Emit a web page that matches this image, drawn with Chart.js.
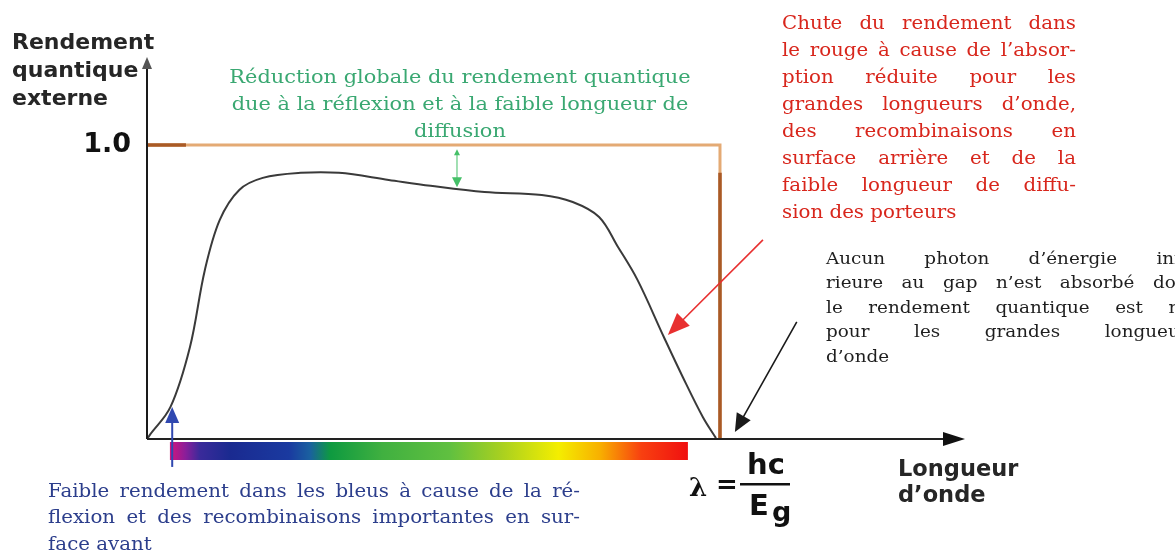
<!DOCTYPE html>
<html lang="fr">
<head>
<meta charset="utf-8">
<title>Rendement quantique externe</title>
<script src="https://cdn.jsdelivr.net/npm/chart.js@4.4.1/dist/chart.umd.min.js"></script>
<style>
  html, body { margin: 0; padding: 0; background: #fff; overflow: hidden; }
  canvas { display: block; }
</style>
</head>
<body>
<canvas id="graficoRendement" width="1175" height="554"></canvas>
<script>
// ========== DONNÉES ==========
// longueur d'onde réduite λ/λg (λg = hc/Eg) et rendement quantique externe mesuré
const lambdaRel = [0, 0.005, 0.041, 0.075, 0.101, 0.127, 0.161, 0.202, 0.268, 0.335, 0.422,
                   0.495, 0.589, 0.689, 0.743, 0.789, 0.822, 0.856, 0.902, 0.935, 0.970, 0.993];
const rendement = [0, 0.014, 0.109, 0.313, 0.575, 0.745, 0.847, 0.888, 0.905, 0.905, 0.881,
                   0.861, 0.840, 0.830, 0.806, 0.755, 0.653, 0.541, 0.347, 0.211, 0.075, 0.003];

// cas idéal : rendement 1 jusqu'au gap, 0 au-delà
const idealX = [0, 1, 1];
const idealY = [1, 1, 0];
// parties du cadre idéal tracées en brun foncé
const bordGaucheX = [0, 0.068];
const bordGaucheY = [1, 1];
const bordDroitX = [1, 1];
const bordDroitY = [0.905, 0];

// graduation de l'axe vertical
const yTicks = [1.0];
const yTickLabels = ['1.0'];

// bornes des axes (pointe des flèches)
const xMax = 1.4276;
const yMax = 1.299;

// bande du spectre visible sous l'axe des λ
const spectreDebut = 0.04;
const spectreFin = 0.944;
const spectrePos = [0, 0.03, 0.058, 0.116, 0.23, 0.27, 0.31, 0.41, 0.54, 0.64, 0.75, 0.83, 0.91, 1];
const spectreCouleurs = ['#d4147c', '#8a1e9a', '#3a2a9a', '#1a2a90', '#1a3aa0', '#1a60a0', '#0e9a40',
                         '#40b040', '#60c040', '#a8d020', '#f4ee00', '#f8b000', '#f84010', '#f01010'];

// ========== TEXTES ==========
const paragraphes = [
    {
        lignes: ['Chute du rendement dans', 'le rouge à cause de l’absor-', 'ption réduite pour les',
                 'grandes longueurs d’onde,', 'des recombinaisons en', 'surface arrière et de la',
                 'faible longueur de diffu-', 'sion des porteurs'],
        x: 782, y: 24, pas: 27, largeur: 294, couleur: '#d8261c', police: '18px "DejaVu Serif"', etirement: 1.1
    },
    {
        lignes: ['Aucun photon d’énergie infé-', 'rieure au gap n’est absorbé donc',
                 'le rendement quantique est nul', 'pour les grandes longueurs', 'd’onde'],
        x: 826, y: 259, pas: 24.5, largeur: 372, couleur: '#1e1e1e', police: '17.5px "DejaVu Serif"', etirement: 1.05
    },
    {
        lignes: ['Faible rendement dans les bleus à cause de la ré-',
                 'flexion et des recombinaisons importantes en sur-', 'face avant'],
        x: 48, y: 492, pas: 26.5, largeur: 532, couleur: '#2c3e8c', police: '18px "DejaVu Serif"', etirement: 1.1
    }
];
const texteVert = ['Réduction globale du rendement quantique',
                   'due à la réflexion et à la faible longueur de', 'diffusion'];
const titreY = ['Rendement', 'quantique', 'externe'];
const titreX = ['Longueur', 'd’onde'];

// ========== OUTILS DE DESSIN ==========
function ligneJustifiee(ctx, txt, x, y, largeur, justifier, etirement) {
    const mots = txt.split(' ');
    const larg = mots.map(m => ctx.measureText(m).width * etirement);
    const total = larg.reduce((a, b) => a + b, 0);
    const espNat = ctx.measureText(' ').width * etirement;
    let esp = espNat;
    let sx = etirement;
    if (justifier && mots.length > 1) {
        esp = (largeur - total) / (mots.length - 1);
        if (esp < espNat * 0.8) {
            esp = espNat * 0.8;
            sx = etirement * (largeur - esp * (mots.length - 1)) / total;
        }
    }
    let cx = x;
    mots.forEach((m, i) => {
        ctx.save();
        ctx.translate(cx, y);
        ctx.scale(sx, 1);
        ctx.fillText(m, 0, 0);
        ctx.restore();
        cx += larg[i] * sx / etirement + esp;
    });
}

function pointe(ctx, x1, y1, x2, y2, long, demi) {
    const a = Math.atan2(y2 - y1, x2 - x1);
    ctx.beginPath();
    ctx.moveTo(x2, y2);
    ctx.lineTo(x2 - long * Math.cos(a) + demi * Math.sin(a), y2 - long * Math.sin(a) - demi * Math.cos(a));
    ctx.lineTo(x2 - long * Math.cos(a) - demi * Math.sin(a), y2 - long * Math.sin(a) + demi * Math.cos(a));
    ctx.closePath();
    ctx.fill();
}

function fleche(ctx, x1, y1, x2, y2, couleur, epaisseur, long, demi, double) {
    const a = Math.atan2(y2 - y1, x2 - x1);
    ctx.save();
    ctx.strokeStyle = couleur;
    ctx.fillStyle = couleur;
    ctx.lineWidth = epaisseur;
    ctx.beginPath();
    ctx.moveTo(x1 + (double ? long * 0.5 * Math.cos(a) : 0), y1 + (double ? long * 0.5 * Math.sin(a) : 0));
    ctx.lineTo(x2 - long * 0.8 * Math.cos(a), y2 - long * 0.8 * Math.sin(a));
    ctx.stroke();
    pointe(ctx, x1, y1, x2, y2, long, demi);
    if (double) pointe(ctx, x2, y2, x1, y1, long * 0.6, demi * 0.6);
    ctx.restore();
}

// annotations fléchées, en coordonnées des données (λ/λg, rendement)
const flecheVert = { de: [0.541, 0.985], vers: [0.541, 0.856] };
const flecheRouge = { de: [1.075, 0.677], vers: [0.909, 0.354] };
const flecheNoire = { de: [1.134, 0.398], vers: [1.026, 0.024] };
const flecheBleue = { de: [0.044, -0.095], vers: [0.044, 0.109] };

// ========== PLUGIN : AXES, SPECTRE, FLÈCHES, TEXTES ==========
const decorDiagramme = {
    id: 'decorDiagramme',
    afterDatasetsDraw(chart) {
        const ctx = chart.ctx;
        const xs = chart.scales.x, ys = chart.scales.y;
        const px = v => xs.getPixelForValue(v);
        const py = v => ys.getPixelForValue(v);
        const area = chart.chartArea;
        const x0 = px(0), y0 = py(0);

        ctx.save();

        // spectre visible
        const sx1 = px(spectreDebut), sx2 = px(spectreFin);
        const grad = ctx.createLinearGradient(sx1, 0, sx2, 0);
        spectrePos.forEach((p, i) => grad.addColorStop(p, spectreCouleurs[i]));
        ctx.fillStyle = grad;
        ctx.fillRect(sx1, y0 + 3, sx2 - sx1, 18);

        // axe vertical
        ctx.strokeStyle = '#1a1a1a';
        ctx.lineWidth = 2;
        ctx.beginPath();
        ctx.moveTo(x0, y0);
        ctx.lineTo(x0, area.top + 10);
        ctx.stroke();
        ctx.fillStyle = '#555';
        pointe(ctx, x0, area.top + 20, x0, area.top, 12, 5);

        // axe horizontal
        ctx.strokeStyle = '#222';
        ctx.beginPath();
        ctx.moveTo(x0, y0);
        ctx.lineTo(area.right - 15, y0);
        ctx.stroke();
        ctx.fillStyle = '#111';
        pointe(ctx, area.left, y0, area.right, y0, 22, 7);

        // flèches d'annotation
        const f = (o, c, e, l, d, dbl) => fleche(ctx, px(o.de[0]), py(o.de[1]), px(o.vers[0]), py(o.vers[1]), c, e, l, d, dbl);
        f(flecheVert, '#45c068', 1, 10, 5, true);
        f(flecheRouge, '#e83030', 1.6, 22, 9, false);
        f(flecheNoire, '#1a1a1a', 1.6, 18, 8, false);
        f(flecheBleue, '#3048b0', 2, 16, 7, false);

        // graduation 1.0
        ctx.fillStyle = '#111';
        ctx.font = 'bold 27px "DejaVu Sans"';
        ctx.textAlign = 'right';
        ctx.textBaseline = 'middle';
        yTicks.forEach((v, i) => ctx.fillText(yTickLabels[i], x0 - 16, py(v)));

        // titres des axes
        ctx.textAlign = 'left';
        ctx.fillStyle = '#262626';
        ctx.font = 'bold 22px "DejaVu Sans"';
        titreY.forEach((t, i) => ctx.fillText(t, 12, 43 + i * 28));
        ctx.font = 'bold 22.5px "DejaVu Sans"';
        titreX.forEach((t, i) => ctx.fillText(t, 898, 470 + i * 26));

        // λ = hc / Eg
        ctx.fillStyle = '#111';
        ctx.font = 'bold 26px "DejaVu Serif"';
        ctx.fillText('λ', 689, 489);
        ctx.font = 'bold 26px "DejaVu Sans"';
        ctx.fillText('=', 716, 486);
        ctx.textAlign = 'center';
        ctx.font = 'bold 29px "DejaVu Sans"';
        ctx.fillText('hc', 766, 466);
        ctx.fillRect(740, 483, 50, 2.5);
        ctx.textAlign = 'left';
        ctx.fillText('E', 749, 507);
        ctx.font = 'bold 27px "DejaVu Sans"';
        ctx.fillText('g', 772, 514);

        // texte vert centré
        ctx.fillStyle = '#3aa872';
        ctx.font = '19px "DejaVu Serif"';
        ctx.textAlign = 'center';
        texteVert.forEach((t, i) => {
            ctx.save();
            ctx.translate(460, 78 + i * 27);
            ctx.scale(1.1, 1);
            ctx.fillText(t, 0, 0);
            ctx.restore();
        });

        // paragraphes justifiés
        ctx.textAlign = 'left';
        paragraphes.forEach(p => {
            ctx.fillStyle = p.couleur;
            ctx.font = p.police;
            p.lignes.forEach((t, i) => ligneJustifiee(ctx, t, p.x, p.y + i * p.pas, p.largeur,
                i < p.lignes.length - 1, p.etirement));
        });

        ctx.restore();
    }
};

// ========== GRAPHIQUE ==========
// l'ordre compte : le premier jeu de données est dessiné au-dessus des suivants
const ctx = document.getElementById('graficoRendement').getContext('2d');
new Chart(ctx, {
    type: 'scatter',
    data: {
        datasets: [
            {
                label: 'Rendement quantique externe',
                data: lambdaRel.map((x, i) => ({ x, y: rendement[i] })),
                showLine: true,
                borderColor: '#3a3a3a',
                borderWidth: 2,
                pointRadius: 0,
                tension: 0.35
            },
            {
                label: 'Bord gauche',
                data: bordGaucheX.map((x, i) => ({ x, y: bordGaucheY[i] })),
                showLine: true,
                borderColor: '#a95a26',
                borderWidth: 3.5,
                pointRadius: 0
            },
            {
                label: 'Bord droit',
                data: bordDroitX.map((x, i) => ({ x, y: bordDroitY[i] })),
                showLine: true,
                borderColor: '#a95a26',
                borderWidth: 3.5,
                pointRadius: 0
            },
            {
                label: 'Idéal',
                data: idealX.map((x, i) => ({ x, y: idealY[i] })),
                showLine: true,
                borderColor: '#e4aa74',
                borderWidth: 3,
                pointRadius: 0
            }
        ]
    },
    options: {
        responsive: false,
        animation: false,
        layout: { padding: { left: 147, top: 57, right: 210, bottom: 115 } },
        plugins: {
            legend: { display: false },
            tooltip: { enabled: false }
        },
        scales: {
            x: { type: 'linear', min: 0, max: xMax, display: false },
            y: { type: 'linear', min: 0, max: yMax, display: false }
        }
    },
    plugins: [decorDiagramme]
});
</script>
</body>
</html>
